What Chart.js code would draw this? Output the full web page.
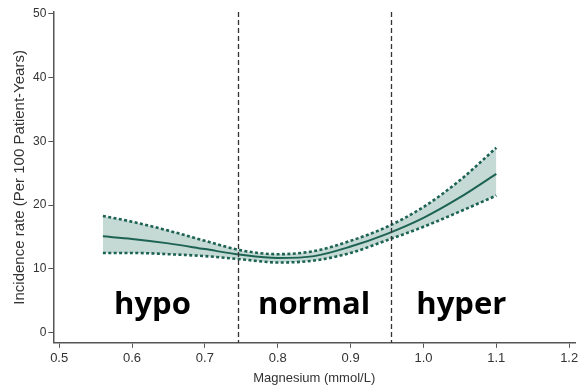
<!DOCTYPE html>
<html>
<head>
<meta charset="utf-8">
<script src="https://cdn.jsdelivr.net/npm/chart.js@4.4.1/dist/chart.umd.min.js"></script>
<style>
  html, body { margin: 0; padding: 0; background: #fff; }
  #wrap { width: 582px; height: 386px; }
</style>
</head>
<body>
<div id="wrap"><canvas id="mgChart" width="582" height="386"></canvas></div>
<script>
// magnesium level (mmol/L) and fitted incidence rate with 95% band
const magnesium = [0.56, 0.60, 0.65, 0.70, 0.75, 0.80, 0.85, 0.90, 0.95, 1.00, 1.05, 1.10];
const rate      = [15.1, 14.7, 14.0, 13.1, 12.2, 11.7, 12.0, 13.5, 15.5, 18.0, 21.2, 24.9];
const upperCI   = [18.3, 17.4, 16.0, 14.4, 12.9, 12.3, 12.8, 14.4, 16.6, 19.7, 23.9, 29.0];
const lowerCI   = [12.5, 12.5, 12.3, 12.0, 11.5, 11.0, 11.3, 12.5, 14.5, 16.6, 19.0, 21.5];

const cutoffs = [0.745, 0.955];
const zoneNames = ['hypo', 'normal', 'hyper'];
const zoneCenters = [0.628, 0.85, 1.052];

const xTicks = [0.5, 0.6, 0.7, 0.8, 0.9, 1.0, 1.1, 1.2];
const yTicks = [0, 10, 20, 30, 40, 50];

const teal = '#1d6354';
const band = '#c6dad5';
const axisFont = 'Arial, "Liberation Sans", sans-serif';

const pts = ys => magnesium.map((x, i) => ({ x: x, y: ys[i] }));

// vertical cutoff lines + zone captions
const zonePlugin = {
    id: 'zones',
    afterDatasetsDraw(chart) {
        const { ctx, chartArea, scales } = chart;
        ctx.save();
        ctx.strokeStyle = '#333';
        ctx.lineWidth = 1.3;
        ctx.setLineDash([5, 3]);
        cutoffs.forEach(c => {
            const px = Math.round(scales.x.getPixelForValue(c)) + 0.5;
            ctx.beginPath();
            ctx.moveTo(px, chartArea.top);
            ctx.lineTo(px, chartArea.bottom);
            ctx.stroke();
        });
        ctx.setLineDash([]);
        ctx.fillStyle = '#000';
        ctx.font = 'bold 31px "Open Sans", Lato, sans-serif';
        ctx.textAlign = 'center';
        ctx.textBaseline = 'alphabetic';
        zoneNames.forEach((name, i) => {
            ctx.fillText(name, scales.x.getPixelForValue(zoneCenters[i]), scales.y.getPixelForValue(2.9));
        });
        ctx.restore();
    }
};

const bound = (ys, fill) => ({
    data: pts(ys),
    borderColor: teal,
    borderWidth: 2.6,
    borderDash: [3, 2.4],
    pointRadius: 0,
    cubicInterpolationMode: 'monotone',
    backgroundColor: band,
    fill: fill,
    order: 1
});

new Chart(document.getElementById('mgChart'), {
    type: 'line',
    data: {
        datasets: [
            bound(lowerCI, false),
            bound(upperCI, '-1'),
            {
                data: pts(rate),
                borderColor: teal,
                borderWidth: 2,
                pointRadius: 0,
                cubicInterpolationMode: 'monotone',
                fill: false,
                order: 0
            }
        ]
    },
    options: {
        responsive: false,
        animation: false,
        layout: { padding: { top: 12, right: 7, left: 11, bottom: 0 } },
        plugins: {
            legend: { display: false },
            tooltip: { enabled: false }
        },
        scales: {
            x: {
                type: 'linear',
                min: 0.492,
                max: 1.208,
                afterBuildTicks: axis => { axis.ticks = xTicks.map(v => ({ value: v })); },
                grid: { drawOnChartArea: false, drawTicks: true, tickLength: 5, color: '#555', lineWidth: 1 },
                border: { display: true, color: '#555', width: 1.5 },
                ticks: {
                    color: '#333',
                    font: { family: axisFont, size: 13 },
                    padding: 3,
                    maxRotation: 0,
                    callback: v => v.toFixed(1)
                },
                title: {
                    display: true,
                    text: 'Magnesium (mmol/L)',
                    color: '#333',
                    font: { family: axisFont, size: 13 },
                    padding: { top: 1, bottom: 0 }
                }
            },
            y: {
                type: 'linear',
                min: -1.6,
                max: 50.3,
                afterBuildTicks: axis => { axis.ticks = yTicks.map(v => ({ value: v })); },
                grid: { drawOnChartArea: false, drawTicks: true, tickLength: 5, color: '#555', lineWidth: 1 },
                border: { display: true, color: '#555', width: 1.5 },
                ticks: {
                    color: '#333',
                    font: { family: axisFont, size: 12 },
                    padding: 2
                },
                title: {
                    display: true,
                    text: 'Incidence rate (Per 100 Patient-Years)',
                    color: '#333',
                    font: { family: axisFont, size: 15 },
                    padding: { top: 0, bottom: 2 }
                }
            }
        }
    },
    plugins: [zonePlugin]
});
</script>
</body>
</html>
